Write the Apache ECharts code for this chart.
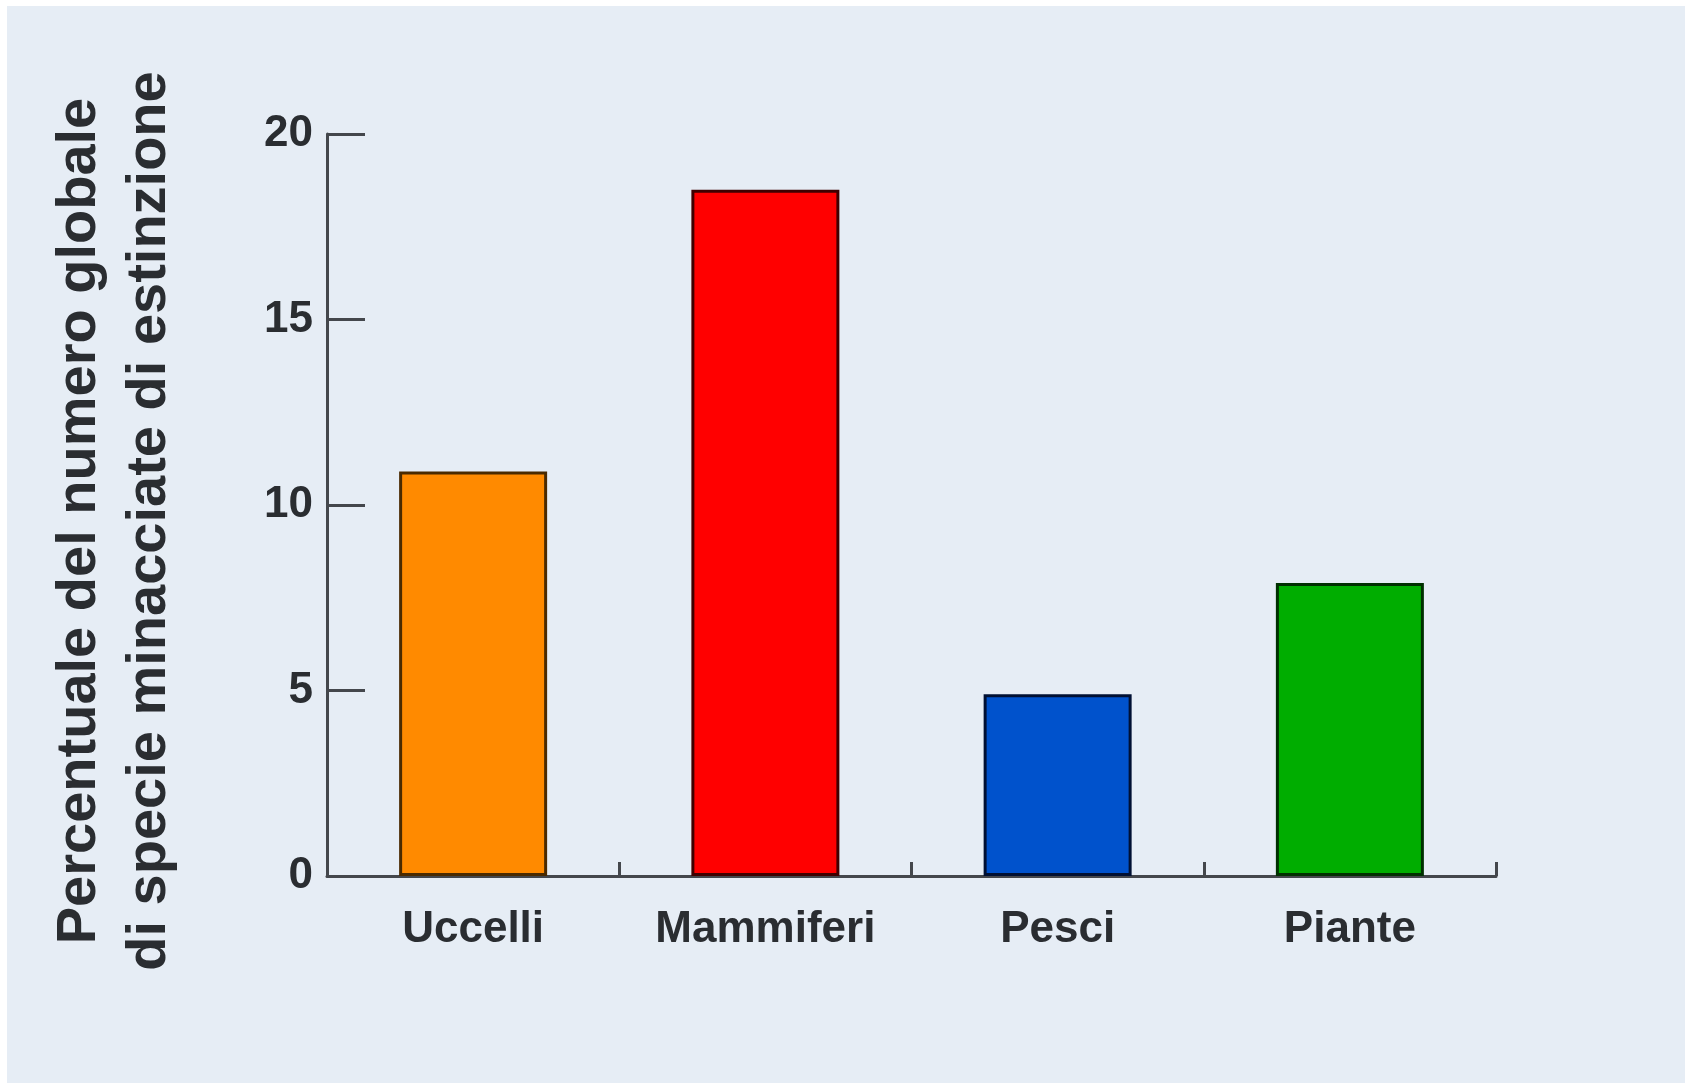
<!DOCTYPE html>
<html>
<head>
<meta charset="utf-8">
<title>Specie minacciate di estinzione</title>
<script src="https://cdn.jsdelivr.net/npm/echarts@6/dist/echarts.min.js"></script>
<style>
  html, body { margin: 0; padding: 0; background: #ffffff; }
  #chart { position: absolute; left: 7px; top: 6px; width: 1678px; height: 1077px; background: #e6edf5; }
</style>
</head>
<body>
<div id="chart"></div>
<script>
// Percentuale delle specie minacciate per gruppo
const categories = ['Uccelli', 'Mammiferi', 'Pesci', 'Piante'];
const values = [10.9, 18.5, 4.9, 7.9];
const barColors = ['#ff8a00', '#ff0000', '#0052cc', '#00ad00'];
const borderColors = ['#4a2a00', '#400000', '#001033', '#003000'];
const yTicks = [0, 5, 10, 15, 20];
const yTitle = ['Percentuale del numero globale', 'di specie minacciate di estinzione'];

const chart = echarts.init(document.getElementById('chart'));
const fontFamily = '"Liberation Sans", Arial, Helvetica, sans-serif';
const axisColor = '#44474c';
const textColor = '#2a2d31';

chart.setOption({
  backgroundColor: '#e6edf5',
  animation: false,
  grid: { left: 320, top: 128, right: 189, bottom: 207 },
  xAxis: {
    type: 'category',
    data: categories,
    boundaryGap: true,
    axisLine: { lineStyle: { color: axisColor, width: 3 } },
    axisTick: { show: true, inside: true, length: 14, interval: 0, lineStyle: { color: axisColor, width: 3 } },
    axisLabel: { interval: 0, color: textColor, fontSize: 44, fontWeight: 'bold', fontFamily: fontFamily, margin: 32 }
  },
  yAxis: {
    type: 'value',
    min: yTicks[0],
    max: yTicks[yTicks.length - 1],
    interval: yTicks[1] - yTicks[0],
    splitLine: { show: false },
    axisLine: { show: true, lineStyle: { color: axisColor, width: 3 } },
    axisTick: { show: true, inside: true, length: 38, lineStyle: { color: axisColor, width: 3 } },
    axisLabel: { color: textColor, fontSize: 44, fontWeight: 'bold', fontFamily: fontFamily, margin: 14 }
  },
  graphic: [{
    type: 'text',
    x: 108,
    y: 515,
    rotation: Math.PI / 2,
    style: {
      text: yTitle.join('\n'),
      fontSize: 56,
      fontWeight: 'bold',
      lineHeight: 70,
      fontFamily: fontFamily,
      fill: textColor,
      textAlign: 'center',
      textVerticalAlign: 'middle'
    }
  }],
  series: [{
    type: 'bar',
    barWidth: 148,
    data: values.map((v, i) => ({
      value: v,
      itemStyle: { color: barColors[i], borderColor: borderColors[i], borderWidth: 3 }
    }))
  }]
});
</script>
</body>
</html>
